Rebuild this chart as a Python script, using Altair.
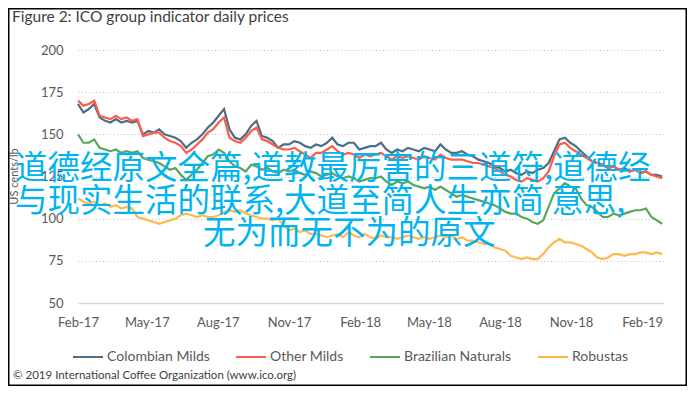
import altair as alt
import pandas as pd

# ---- data (weekly readings from the reference picture) ----
dates = pd.date_range("2017-02-01", periods=109, freq="7D")

colombian = [168,163,165,168,160,158,157,159,157,158,
             157,158,150,152,151,153,150,149,148,146,
             142,145,147,150,154,157,161,165,153,148,
             147,150,155,158,149,148,146,142,144,144,
             146,145,143,142,144,143,145,148,144,143,
             145,145,141,142,143,143,145,141,139,141,
             140,142,141,140,142,141,140,144,141,139,
             139,140,138,137,135,134,133,131,130,128,
             129,127,126,128,127,129,130,133,140,147,
             148,145,143,140,137,134,133,132,130,131,
             129,130,128,129,127,128,126,126,125]

other_milds = [170,167,168,170,161,160,159,161,159,160,
               158,159,149,150,151,151,148,146,145,143,
               139,141,144,147,151,153,157,160,148,146,
               145,148,152,154,147,146,144,142,141,141,
               142,140,138,136,139,139,141,143,140,138,
               139,138,136,138,137,138,139,137,135,137,
               136,137,136,135,137,136,135,138,136,135,
               135,135,134,133,133,132,131,130,128,126,
               125,123,122,124,123,122,124,128,137,144,
               145,142,140,138,136,134,133,132,130,131,
               129,129,128,129,127,128,126,125,124]

brazilian = [150,145,145,147,142,141,140,141,139,140,
             139,140,136,135,134,133,131,129,130,126,
             123,126,129,133,137,138,141,139,134,131,
             130,128,132,131,129,130,128,127,129,128,
             129,127,126,128,127,125,126,127,125,124,
             125,124,122,123,124,124,125,122,120,122,
             121,122,120,119,118,119,117,119,117,115,
             113,114,113,112,111,110,109,108,106,104,
             103,103,101,100,98,97,99,107,115,118,
             121,119,118,112,108,107,104,101,101,103,
             102,103,104,105,105,106,101,99,97]

robustas = [112,110,109,110,108,109,107,108,106,107,
            106,101,100,99,98,97,98,99,100,102,
            103,102,101,102,101,101,102,104,105,104,
            105,103,102,101,100,100,99,100,96,93,
            94,92,93,91,91,90,89,90,91,89,
            92,90,89,91,89,88,90,89,89,88,
            89,90,89,88,89,88,89,90,89,90,
            88,89,87,87,86,85,85,83,82,81,
            78,77,76,77,76,76,79,83,86,88,
            86,86,85,84,82,80,77,76,77,79,
            79,78,79,79,80,80,79,80,79]

series_names = ["Colombian Milds", "Other Milds", "Brazilian Naturals", "Robustas"]
series_colors = ["#4A6F86", "#FF5B4A", "#58A65C", "#FFB84D"]
y_ticks = [50, 75, 100, 125, 150, 175, 200]
x_tick_months = [(2017, 2), (2017, 5), (2017, 8), (2017, 11), (2018, 2),
                 (2018, 5), (2018, 8), (2018, 11), (2019, 2)]

title_text = "Figure 2: ICO group indicator daily prices"
y_title = "US cents/lb"
footer_text = "\u00a9 2019 International Coffee Organization (www.ico.org)"
overlay_lines = ["道德经原文全篇,道教最厉害的三道符,道德经",
                 "与现实生活的联系,大道至简人生亦简 意思,",
                 "无为而无不为的原文"]

# ---- build table ----
frames = []
for name, vals in zip(series_names, [colombian, other_milds, brazilian, robustas]):
    frames.append(pd.DataFrame({"date": dates, "value": vals, "series": name}))
df = pd.concat(frames, ignore_index=True)

FONT = "Lato"
GREY = "#595959"

x_values = [alt.DateTime(year=y, month=m, date=1) for y, m in x_tick_months]

lines = alt.Chart(df).mark_line(strokeWidth=2.2).encode(
    x=alt.X("date:T",
            scale=alt.Scale(domain=[alt.DateTime(year=2017, month=2, date=1),
                                    alt.DateTime(year=2019, month=2, date=28)]),
            axis=alt.Axis(values=x_values, format="%b-%y", title=None, grid=False,
                          ticks=False, tickSize=0, domainColor="#D9D9D9", domainWidth=1.5,
                          labelFont=FONT, labelFontSize=13, labelColor=GREY,
                          labelPadding=13, labelFlush=False, labelOverlap=False)),
    y=alt.Y("value:Q",
            scale=alt.Scale(domain=[50, 200], nice=False, zero=False),
            axis=alt.Axis(values=y_ticks, title=y_title, domain=False, ticks=False,
                          tickSize=0, grid=True, gridColor="#BFBFBF", gridDash=[1, 2.5],
                          gridWidth=1, labelFont=FONT, labelFontSize=13, labelColor=GREY,
                          labelPadding=15, titleFont=FONT, titleFontSize=11,
                          titleFontWeight="normal", titleColor=GREY,
                          titleX=-59, titleY=126, titleAngle=270)),
    color=alt.Color("series:N",
                    scale=alt.Scale(domain=series_names, range=series_colors),
                    legend=alt.Legend(title=None, orient="none", legendX=-6, legendY=291,
                                      direction="horizontal", columns=4,
                                      symbolType="stroke", symbolSize=900,
                                      symbolStrokeWidth=2, labelFont=FONT,
                                      labelFontSize=14, labelColor=GREY, labelOffset=3,
                                      columnPadding=22)),
)


def text_layer(txt, x, y, **kw):
    return alt.Chart(pd.DataFrame({"t": [txt]})).mark_text(**kw).encode(
        text="t:N", x=alt.value(x), y=alt.value(y))


overlay = [
    text_layer(overlay_lines[0], -63, 119, align="left", baseline="middle",
               font="Noto Sans CJK SC", fontSize=32.5, color="#00B4F0"),
    text_layer(overlay_lines[1], -63, 152, align="left", baseline="middle",
               font="Noto Sans CJK SC", fontSize=32.5, color="#00B4F0"),
    text_layer(overlay_lines[2], 125, 184, align="left", baseline="middle",
               font="Noto Sans CJK SC", fontSize=32.5, color="#00B4F0"),
]

title = text_layer(title_text, -66, -33, align="left", baseline="middle",
                   font=FONT, fontSize=15.5, color="#404040")
footer = text_layer(footer_text, -65, 326, align="left", baseline="middle",
                    font=FONT, fontSize=11.5, color="#404040")

border = alt.Chart(pd.DataFrame({"a": [0]})).mark_rect(
    fillOpacity=0, stroke="#000000", strokeWidth=1.5).encode(
    x=alt.value(-69.25), x2=alt.value(608.25), y=alt.value(-41.25), y2=alt.value(335.25))

chart = alt.layer(lines, *overlay, title, footer, border).properties(
    width=585, height=253,
    autosize=alt.AutoSizeParams(type="none"),
    padding={"left": 70, "top": 42, "right": 24, "bottom": 83},
    background="#FFFFFF",
).configure_view(strokeWidth=0)

chart.save("out.html", embed_options={"renderer": "svg", "actions": False})
